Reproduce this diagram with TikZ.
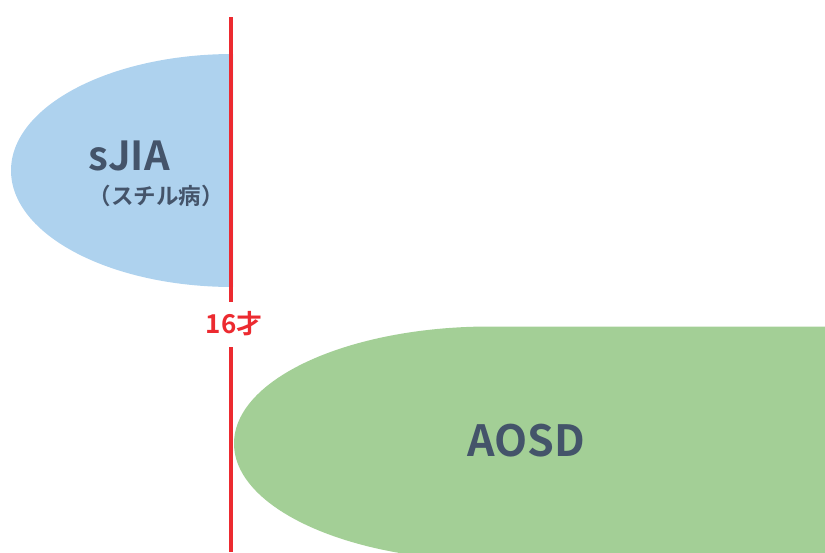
\documentclass[tikz,border=0pt]{standalone}
\usepackage{fontspec}
\setmainfont{Noto Sans CJK JP}[BoldFont={Noto Sans CJK JP Bold}]
\definecolor{sjiablue}{HTML}{AED2EE}
\definecolor{aosdgreen}{HTML}{A3CF96}
\definecolor{slate}{HTML}{44546A}
\definecolor{agered}{HTML}{EC2A30}
\tikzset{
  disease/.style={font=\bfseries, text=slate, inner sep=0pt},
  agemark/.style={draw=agered, line width=3.2pt},
  agelabel/.style={font=\bfseries\fontsize{26}{28}\selectfont, text=agered, inner sep=0pt}
}
\begin{document}
\begin{tikzpicture}[x=1pt,y=-1pt]
\useasboundingbox (0,0) rectangle (825,552);
\clip (0,0) rectangle (825,552);
% sJIA half ellipse
\fill[sjiablue] (233,54) arc[start angle=-90, end angle=-270, x radius=222, y radius=116.5] -- cycle;
% AOSD shape
\fill[aosdgreen] (490,326.5) arc[start angle=-90, end angle=-270, x radius=256, y radius=117] -- (830,560.5) -- (830,326.5) -- cycle;
% labels
\node[disease, font=\bfseries\fontsize{40}{44}\selectfont] (sjia) at (129,156) {sJIA};
\node[disease, font=\bfseries\fontsize{22.5}{25}\selectfont] (still) at (156,196) {（スチル病）};
\node[disease, font=\bfseries\fontsize{43}{47}\selectfont] (aosd) at (526,441) {AOSD};
% 16 years line
\node[agelabel] (age) at (234,324) {16才};
\coordinate (top) at (231,17);
\coordinate (bottom) at (231,552);
\draw[agemark] (top) -- (231,302);
\draw[agemark] (231,347) -- (bottom);
\end{tikzpicture}
\end{document}
